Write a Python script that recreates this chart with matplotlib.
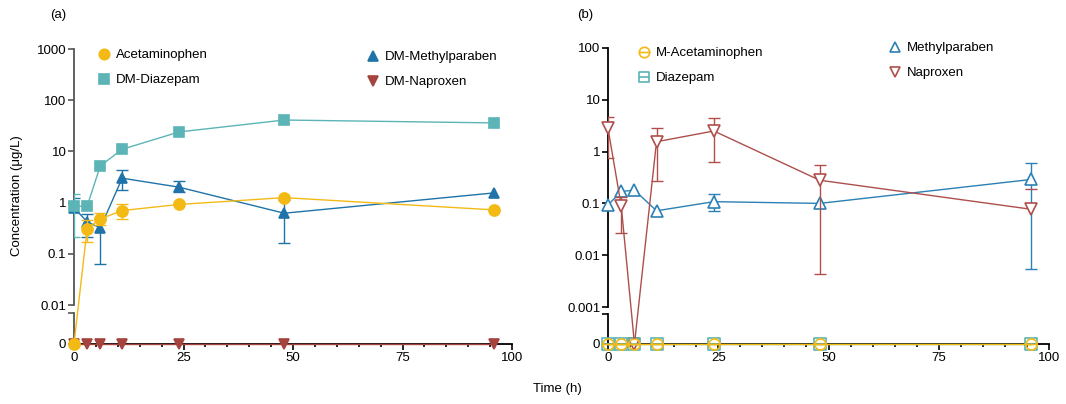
import numpy as np
import matplotlib.pyplot as plt
from matplotlib.lines import Line2D
from matplotlib.patches import ConnectionPatch
from matplotlib.path import Path
import matplotlib.ticker as mticker

plt.rcParams['font.family'] = ['Liberation Sans', 'DejaVu Sans']
plt.rcParams['font.size'] = 9.5

nan = np.nan
hours = [0, 3, 6, 11, 24, 48, 96]

# (a) means and error bar limits (nan = no bar)
a_acet = [0, 0.31, 0.48, 0.70, 0.92, 1.25, 0.72]
a_acet_lo = [nan, 0.17, 0.37, 0.48, nan, nan, nan]
a_acet_hi = [nan, 0.45, 0.62, 0.93, nan, nan, nan]

a_diaz = [0.85, 0.85, 5.2, 11, 24, 41, 36]
a_diaz_lo = [0.21, nan, nan, nan, nan, nan, nan]
a_diaz_hi = [1.45, nan, nan, nan, nan, nan, nan]

a_meth = [0.8, 0.42, 0.32, 3.0, 2.0, 0.62, 1.55]
a_meth_lo = [nan, 0.21, 0.063, 1.75, 1.6, 0.165, nan]
a_meth_hi = [1.25, 0.6, 0.5, 4.3, 2.6, 1.1, nan]

a_napr = [0, 0, 0, 0, 0, 0, 0]

# (b)
b_macet = [0, 0, 0, 0, 0, 0, 0]
b_diaz = [0, 0, 0, 0, 0, 0, 0]

b_meth = [0.093, 0.17, 0.18, 0.072, 0.108, 0.1, 0.29]
b_meth_lo = [nan, nan, nan, nan, 0.072, nan, 0.0053]
b_meth_hi = [nan, nan, nan, nan, 0.15, nan, 0.6]

b_napr = [2.8, 0.09, 0, 1.55, 2.5, 0.28, 0.077]
b_napr_lo = [0.75, 0.027, nan, 0.27, 0.64, 0.0043, nan]
b_napr_hi = [4.6, 0.13, nan, 2.8, 4.4, 0.54, 0.19]

yellow = '#F3BA16'
teal = '#5CB4B6'
blue = '#1F73A9'
red = '#A5443F'
blue_b = '#2B80B5'
red_b = '#AE4F4C'

# circle / square with a bar through the middle
circ_bar = Path.make_compound_path(Path.unit_circle(), Path([(-1, 0), (1, 0)]))
sq_bar = Path.make_compound_path(
    Path([(-1, -1), (1, -1), (1, 1), (-1, 1), (-1, -1)], closed=True),
    Path([(-1, 0), (1, 0)]))

W, H = 1066, 404
fig = plt.figure(figsize=(W / 100, H / 100), dpi=100)


def box(x0, x1, y0, y1):
    return [x0 / W, 1 - y1 / H, (x1 - x0) / W, (y1 - y0) / H]


def style_axes(top, bot, ymin, ymax, spine):
    top.set_yscale('log')
    top.set_ylim(ymin, ymax)
    top.set_xlim(0, 100)
    top.spines[['top', 'right', 'bottom']].set_visible(False)
    top.spines['left'].set_color(spine)
    top.spines['left'].set_linewidth(1.3)
    top.set_xticks([])
    top.yaxis.set_major_locator(mticker.LogLocator(base=10, numticks=20))
    top.yaxis.set_minor_locator(mticker.NullLocator())
    top.yaxis.set_major_formatter(mticker.FormatStrFormatter('%g'))
    top.tick_params(axis='y', length=4, width=1.2, color=spine, pad=1.5)
    top.patch.set_visible(False)

    bot.set_xlim(0, 100)
    bot.set_ylim(0, 1)
    bot.spines[['top', 'right']].set_visible(False)
    bot.spines['left'].set_color(spine)
    bot.spines['left'].set_linewidth(1.3)
    bot.spines['bottom'].set_linewidth(1.3)
    bot.set_yticks([0, 1])
    bot.set_yticklabels(['0', ''])
    bot.set_xticks([0, 25, 50, 75, 100])
    bot.xaxis.set_minor_locator(mticker.MultipleLocator(5))
    bot.tick_params(axis='y', length=4, width=1.2, color=spine, pad=1.5)
    bot.tick_params(axis='x', which='major', length=4, width=1.2, pad=2)
    bot.tick_params(axis='x', which='minor', length=2.5, width=1.2)
    bot.patch.set_visible(False)


def plot_series(top, bot, y, lo, hi, color, marker, mfc, ms, z):
    x = np.array(hours, float)
    y = np.array(y, float)
    pos = y > 0
    ytop = np.where(pos, y, nan)
    ybot = np.where(pos, nan, y)
    kw = dict(color=color, marker=marker, mfc=mfc, mec=color, ms=ms,
              lw=1.0, mew=1.2, zorder=z, clip_on=False)
    top.plot(x, ytop, **kw)
    bot.plot(x, ybot, **kw)
    # lines that run across the axis break
    for i in range(len(x) - 1):
        if pos[i] != pos[i + 1]:
            con = ConnectionPatch(
                (x[i], y[i]), (x[i + 1], y[i + 1]),
                coordsA='data', coordsB='data',
                axesA=top if pos[i] else bot,
                axesB=top if pos[i + 1] else bot,
                color=color, lw=1.0, zorder=z,
                shrinkA=ms / 2, shrinkB=ms / 2)
            fig.add_artist(con)
    if lo is not None:
        lo = np.array(lo, float)
        hi = np.array(hi, float)
        top.errorbar(x, ytop, yerr=[ytop - lo, hi - ytop], fmt='none',
                     ecolor=color, elinewidth=1.0, capsize=4, capthick=1.0,
                     zorder=z - 0.5)


# (a)
a_top = fig.add_axes(box(74, 512, 49, 305))
a_bot = fig.add_axes(box(74, 512, 313, 344))
style_axes(a_top, a_bot, 0.01, 1000, '#555555')

plot_series(a_top, a_bot, a_napr, None, None, red, 'v', red, 7, 3)
plot_series(a_top, a_bot, a_meth, a_meth_lo, a_meth_hi, blue, '^', blue, 7.5, 4)
plot_series(a_top, a_bot, a_diaz, a_diaz_lo, a_diaz_hi, teal, 's', teal, 7, 5)
plot_series(a_top, a_bot, a_acet, a_acet_lo, a_acet_hi, yellow, 'o', yellow, 8, 6)

# (b)
b_top = fig.add_axes(box(608, 1049, 48, 307))
b_bot = fig.add_axes(box(608, 1049, 314, 344))
style_axes(b_top, b_bot, 0.001, 100, 'black')

plot_series(b_top, b_bot, b_meth, b_meth_lo, b_meth_hi, blue_b, '^', 'white', 8.5, 4)
plot_series(b_top, b_bot, b_napr, b_napr_lo, b_napr_hi, red_b, 'v', 'white', 8.5, 5)
plot_series(b_top, b_bot, b_diaz, None, None, teal, sq_bar, 'none', 8, 6)
plot_series(b_top, b_bot, b_macet, None, None, yellow, circ_bar, 'none', 8, 7)


def add_legend(entries, x, y):
    handles = [Line2D([], [], ls='none', marker=m, color=c, mec=c, mfc=f,
                      ms=7.5, mew=1.2) for _, m, c, f in entries]
    labels = [e[0] for e in entries]
    fig.legend(handles, labels, loc='upper left',
               bbox_to_anchor=(x / W, 1 - y / H), frameon=False,
               borderpad=0, borderaxespad=0, handlelength=1.0,
               handletextpad=0.45, labelspacing=0.97)


add_legend([('Acetaminophen', 'o', yellow, yellow),
            ('DM-Diazepam', 's', teal, teal)], 97, 49)
add_legend([('DM-Methylparaben', '^', blue, blue),
            ('DM-Naproxen', 'v', red, red)], 366, 51)
add_legend([('M-Acetaminophen', circ_bar, yellow, 'none'),
            ('Diazepam', sq_bar, teal, 'none')], 637, 47)
add_legend([('Methylparaben', '^', blue_b, 'white'),
            ('Naproxen', 'v', red_b, 'white')], 888, 42)

fig.text(50 / W, 1 - 15 / H, '(a)', va='center')
fig.text(577 / W, 1 - 15 / H, '(b)', va='center')
fig.text(17 / W, 1 - 196 / H, 'Concentration (μg/L)',
         rotation=90, ha='center', va='center')
fig.text(557 / W, 1 - 389 / H, 'Time (h)', ha='center', va='center')

fig.savefig('out.png', dpi=100)
